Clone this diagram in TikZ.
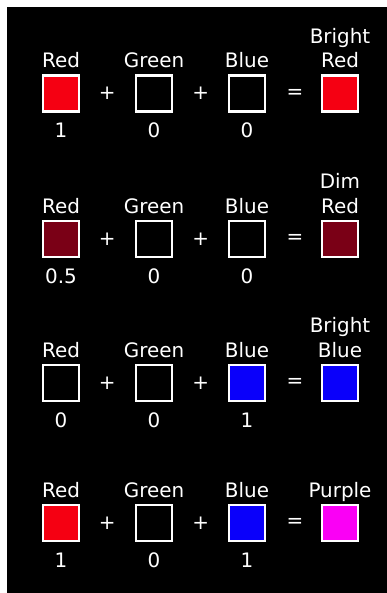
\documentclass[tikz,border=0pt]{standalone}
\usepackage{fontspec}
\setmainfont{DejaVu Sans}
\usepackage{xcolor}
\usepackage{tikz}
\usetikzlibrary{positioning}

\definecolor{pureRed}{RGB}{245,0,18}
\definecolor{dimRed}{RGB}{122,0,22}
\definecolor{pureBlue}{RGB}{10,0,250}
\definecolor{mixPurple}{RGB}{250,0,245}

\begin{document}
\begin{tikzpicture}[
    font=\fontsize{17}{20.5}\selectfont,
    swatch/.style={rectangle, draw=white, line width=2pt, minimum size=1.08cm, inner sep=0pt},
    lbl/.style={text=white, anchor=base, align=center, inner sep=0pt},
    op/.style={text=white, inner sep=0pt}
]

% Frame
\useasboundingbox (0,0) rectangle (11.61,-17.79);
\fill[white] (0,0) rectangle (11.61,-17.79);
\fill[black] (0.21,-0.21) rectangle (11.61,-17.79);

% Row 1: bright red
\node[swatch, fill=pureRed] (r1) at (1.83,-2.805) {};
\node[swatch] (g1) at (4.62,-2.805) {};
\node[swatch] (b1) at (7.41,-2.805) {};
\node[swatch, fill=pureRed] (m1) at (10.2,-2.805) {};
\node[op] (p1a) at (3.22,-2.805) {+};
\node[op] (p1b) at (6.02,-2.805) {+};
\node[op] (e1) at (8.85,-2.805) {=};
\node[lbl] (lr1) at (1.83,-2.025) {Red};
\node[lbl] (lg1) at (4.62,-2.025) {Green};
\node[lbl] (lb1) at (7.41,-2.025) {Blue};
\node[lbl] (lm1) at (10.2,-2.025) {Bright\\Red};
\node[lbl] (vr1) at (1.83,-4.125) {1};
\node[lbl] (vg1) at (4.62,-4.125) {0};
\node[lbl] (vb1) at (7.41,-4.125) {0};

% Row 2: dim red
\node[swatch, fill=dimRed] (r2) at (1.83,-7.17) {};
\node[swatch] (g2) at (4.62,-7.17) {};
\node[swatch] (b2) at (7.41,-7.17) {};
\node[swatch, fill=dimRed] (m2) at (10.2,-7.17) {};
\node[op] (p2a) at (3.22,-7.17) {+};
\node[op] (p2b) at (6.02,-7.17) {+};
\node[op] (e2) at (8.85,-7.17) {=};
\node[lbl] (lr2) at (1.83,-6.39) {Red};
\node[lbl] (lg2) at (4.62,-6.39) {Green};
\node[lbl] (lb2) at (7.41,-6.39) {Blue};
\node[lbl] (lm2) at (10.2,-6.39) {Dim\\Red};
\node[lbl] (vr2) at (1.83,-8.49) {0.5};
\node[lbl] (vg2) at (4.62,-8.49) {0};
\node[lbl] (vb2) at (7.41,-8.49) {0};

% Row 3: bright blue
\node[swatch] (r3) at (1.83,-11.49) {};
\node[swatch] (g3) at (4.62,-11.49) {};
\node[swatch, fill=pureBlue] (b3) at (7.41,-11.49) {};
\node[swatch, fill=pureBlue] (m3) at (10.2,-11.49) {};
\node[op] (p3a) at (3.22,-11.49) {+};
\node[op] (p3b) at (6.02,-11.49) {+};
\node[op] (e3) at (8.85,-11.49) {=};
\node[lbl] (lr3) at (1.83,-10.71) {Red};
\node[lbl] (lg3) at (4.62,-10.71) {Green};
\node[lbl] (lb3) at (7.41,-10.71) {Blue};
\node[lbl] (lm3) at (10.2,-10.71) {Bright\\Blue};
\node[lbl] (vr3) at (1.83,-12.81) {0};
\node[lbl] (vg3) at (4.62,-12.81) {0};
\node[lbl] (vb3) at (7.41,-12.81) {1};

% Row 4: purple
\node[swatch, fill=pureRed] (r4) at (1.83,-15.69) {};
\node[swatch] (g4) at (4.62,-15.69) {};
\node[swatch, fill=pureBlue] (b4) at (7.41,-15.69) {};
\node[swatch, fill=mixPurple] (m4) at (10.2,-15.69) {};
\node[op] (p4a) at (3.22,-15.69) {+};
\node[op] (p4b) at (6.02,-15.69) {+};
\node[op] (e4) at (8.85,-15.69) {=};
\node[lbl] (lr4) at (1.83,-14.91) {Red};
\node[lbl] (lg4) at (4.62,-14.91) {Green};
\node[lbl] (lb4) at (7.41,-14.91) {Blue};
\node[lbl] (lm4) at (10.2,-14.91) {Purple};
\node[lbl] (vr4) at (1.83,-17.01) {1};
\node[lbl] (vg4) at (4.62,-17.01) {0};
\node[lbl] (vb4) at (7.41,-17.01) {1};

\end{tikzpicture}
\end{document}
